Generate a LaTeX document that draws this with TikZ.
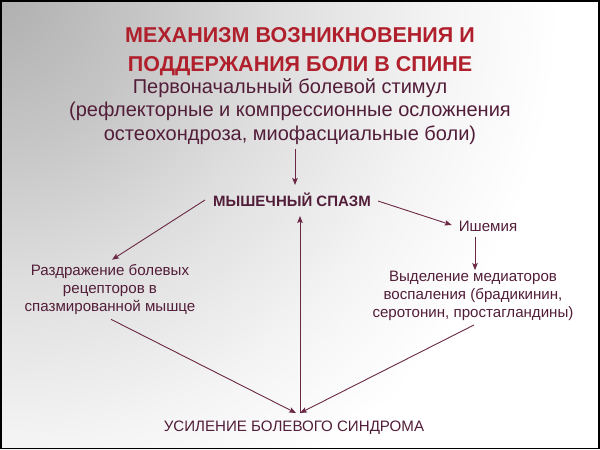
\documentclass[tikz,border=0pt]{standalone}
\usepackage{fontspec}
\setmainfont{Liberation Sans}
\usetikzlibrary{arrows.meta,calc}
\definecolor{titlered}{HTML}{B0202C}
\definecolor{txtcol}{HTML}{521D38}
\definecolor{arrcol}{HTML}{6A2845}
\definecolor{g0}{gray}{0.69}
\definecolor{g1}{gray}{0.78}
\definecolor{g2}{gray}{0.87}
\definecolor{g3}{gray}{0.96}
\pgfdeclareradialshading{bgshade}{\pgfpoint{0bp}{0bp}}{color(0bp)=(g0); color(6.25bp)=(g1); color(11.7bp)=(g2); color(18.75bp)=(g3); color(23.3bp)=(white); color(50bp)=(white)}
\tikzset{
  ttl/.style={text=titlered, font=\fontsize{21.5}{29.5}\selectfont\bfseries, align=center, inner sep=0pt},
  sub/.style={text=txtcol, font=\fontsize{20}{23.5}\selectfont, align=center, inner sep=0pt},
  body/.style={text=txtcol, font=\fontsize{15.1}{18}\selectfont, align=center, inner sep=0pt},
  bodyb/.style={body, font=\fontsize{15}{18}\selectfont\bfseries},
  arr/.style={draw=arrcol, line width=0.9pt, -{Stealth[length=7pt,width=5.5pt,inset=1.5pt]}}
}
\begin{document}
\begin{tikzpicture}[x=1pt,y=-1pt]
\useasboundingbox (0,0) rectangle (600,450);
\begin{scope}
  \clip (0,0) rectangle (600,450);
  \shade[shading=bgshade] (0,0) circle (600pt);
\end{scope}
\draw[black, line width=1.6pt] (0.8,0.8) rectangle (599.2,448.6);

\node[ttl] (title) at (300,51.5) {МЕХАНИЗМ ВОЗНИКНОВЕНИЯ И\\ПОДДЕРЖАНИЯ БОЛИ В СПИНЕ};
\node[sub] (stim) at (290,111.5) {Первоначальный болевой стимул\\(рефлекторные и компрессионные осложнения\\остеохондроза, миофасциальные боли)};
\node[bodyb] (spasm) at (292,200) {МЫШЕЧНЫЙ СПАЗМ};
\node[body] (isch) at (488,226) {Ишемия};
\node[body] (medi) at (473,296) {Выделение медиаторов\\воспаления (брадикинин,\\серотонин, простагландины)};
\node[body] (razd) at (110,290) {Раздражение болевых\\рецепторов в\\спазмированной мышце};
\node[body] (usil) at (294,428) {УСИЛЕНИЕ БОЛЕВОГО СИНДРОМА};

\draw[arr] (stim.south -| 295,0) ++(0,4) -- ($(spasm.north -| 295,0)+(0,-8)$);
\draw[arr] ($(spasm.west)+(-8,0)$) -- ($(razd.north)+(2,-5)$);
\draw[arr] ($(spasm.east)+(7,1)$) -- ($(isch.west)+(-7,-1)$);
\draw[arr] ($(isch.south -| 475,0)+(0,6)$) -- ($(medi.north -| 475,0)+(0,-1)$);
\draw[arr] ($(razd.south)+(1,4)$) -- ($(usil.north)+(2,-8)$);
\draw[arr] ($(medi.south)+(1,4)$) -- ($(usil.north)+(6,-8)$);
\draw[arr] ($(usil.north)+(6,-8)$) -- ($(spasm.south -| 300,0)+(0,9)$);
\end{tikzpicture}
\end{document}
